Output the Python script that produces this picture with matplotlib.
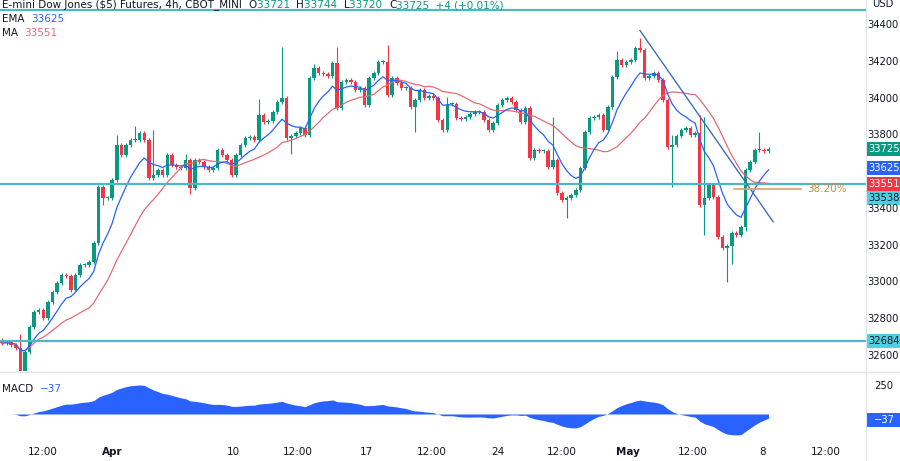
import numpy as np
import pandas as pd
import matplotlib
matplotlib.use("Agg")
import matplotlib.pyplot as plt

closes = [32671,32676,32660,32644,32497,32622,32758,32839,32850,32807,32894,32948,32997,33041,33035,32959,33041,33095,33095,33111,
33215,33519,33459,33459,33557,33747,33693,33747,33775,33775,33813,33775,33568,33584,33612,33584,33693,33639,33628,33622,
33666,33514,33666,33655,33628,33612,33622,33720,33693,33666,33584,33693,33747,33786,33791,33775,33911,33873,33878,33927,
33981,34003,33786,33796,33813,33840,33802,34112,34166,34139,34134,34123,34193,33949,34090,34101,34090,34047,34057,33965,
34112,34139,34199,34199,34019,34112,34085,34057,34057,33954,33992,34047,34003,34014,34003,33883,33829,33970,33970,33894,
33889,33900,33916,33927,33927,33883,33829,33867,33965,33992,34003,33981,33938,33873,33949,33677,33720,33715,33715,33628,
33666,33486,33448,33459,33476,33503,33622,33818,33894,33900,33911,33829,33954,34117,34210,34183,34199,34210,34275,34264,
34112,34123,34139,34101,33992,33737,33748,33796,33829,33840,33802,33813,33421,33459,33530,33465,33247,33187,33198,33269,
33258,33302,33612,33656,33720,33720,33715,33725]
first_open = 32680
# notable wick extremes {candle index: price}
high_over = {0: 32700, 4: 32720, 25: 33800, 29: 33850, 33: 33830, 40: 33700, 56: 34000, 61: 34280, 68: 34190,
             73: 34280, 84: 34290, 97: 34010, 120: 33900, 134: 34260, 139: 34330, 146: 33800, 152: 33911,
             153: 33900, 165: 33820}
low_over = {4: 32480, 5: 32480, 22: 33420, 41: 33480, 63: 33700, 90: 33820, 123: 33350, 146: 33519,
            153: 33260, 158: 33002, 159: 33100, 162: 33280}
hlines = [34482, 33538, 32684]
fib_level = 33508
trend_start = (139, 34370)
trend_end = (168, 33330)
tick_pos = [8.9, 24, 50.3, 64.5, 79.3, 93.7, 108, 122, 136.4, 150.5, 165.6, 179.5]
tick_lbl = ["12:00", "Apr", "10", "12:00", "17", "12:00", "24", "12:00", "May", "12:00", "8", "12:00"]
price_ticks = [34400, 34200, 34000, 33800, 33400, 33200, 33000, 32800, 32600]
box_vals = [33725, 33625, 33551, 33538, 32684]

GREEN = "#089981"; RED = "#f23645"; TEAL = "#4cb8c4"; BLUE = "#2962ff"; MARED = "#e06c75"; CYAN = "#4dd0e1"

c = np.array(closes, float)
o = np.concatenate([[first_open], c[:-1]])
n = len(c)
hi = np.maximum(o, c) + 12
lo = np.minimum(o, c) - 12
for k, v in high_over.items(): hi[k] = v
for k, v in low_over.items(): lo[k] = v
s = pd.Series(c)
ema = s.ewm(span=9, adjust=False).mean()
ma = s.rolling(20, min_periods=1).mean()
macd = s.ewm(span=12, adjust=False).mean() - s.ewm(span=26, adjust=False).mean()

W, H = 900, 461
fig = plt.figure(figsize=(9, 4.61), dpi=100)
def rect(x0, y0, x1, y1):
    return [x0 / W, 1 - y1 / H, (x1 - x0) / W, (y1 - y0) / H]
ax = fig.add_axes(rect(0, 0, 866, 371))
ax2 = fig.add_axes(rect(0, 372, 866, 441))
x = np.arange(n)
xl = (-0.44, -0.44 + 866 / 4.59)
for a in (ax, ax2):
    a.set_xlim(*xl)
    for sp in a.spines.values(): sp.set_visible(False)
    a.set_xticks([]); a.set_yticks([])
ax.set_ylim(34536 - 5.438 * 371, 34536)
for i in range(n):
    col = GREEN if c[i] >= o[i] else RED
    ax.vlines(x[i], lo[i], hi[i], color=col, lw=0.8)
    b0, b1 = min(o[i], c[i]), max(o[i], c[i])
    if b1 - b0 < 4: b1 = b0 + 4
    ax.add_patch(plt.Rectangle((x[i] - 0.38, b0), 0.76, b1 - b0, color=col, lw=0))
ax.plot(x, ma, color=MARED, lw=0.9)
ax.plot(x, ema, color=BLUE, lw=0.9)
for h in hlines:
    ax.axhline(h, color=TEAL, lw=1.6)
ax.plot([trend_start[0], trend_end[0]], [trend_start[1], trend_end[1]], color="#3f6fb5", lw=1)
ax.plot([159.5, 174], [fib_level, fib_level], color="#d9a066", lw=1.2)
ax.text(175.5, fib_level, "38.20%", color="#d4883a", fontsize=7.5, va="center")

ax2.set_ylim(-(441 - 414) * 8.93, (414 - 372) * 8.93)
ax2.fill_between(x, 0, macd, color=BLUE, lw=0)

fig.add_artist(plt.Line2D([0, 1], [1 - 371.5 / H] * 2, color="#e0e3eb", lw=1))
fig.add_artist(plt.Line2D([866 / W] * 2, [0, 1], color="#e0e3eb", lw=0.8))

for p, l in zip(tick_pos, tick_lbl):
    xp = (p - xl[0]) / (xl[1] - xl[0]) * 866 / W
    fig.text(xp, 1 - 452 / H, l, fontsize=7.5, ha="center", va="center", color="#131722",
             fontweight="bold" if l in ("Apr", "May") else "normal")

def py(p):
    return 1 - (34536 - p) / 5.438 / H
for p in price_ticks:
    fig.text(883 / W, py(p), str(p), fontsize=7.2, ha="center", va="center", color="#131722")
fig.text(883 / W, 1 - 4 / H, "USD", fontsize=7.2, ha="center", va="center", color="#131722")
box_cols = [GREEN, BLUE, RED, CYAN, CYAN]
box_ypx = [149, 168, 184, 198, 341]
for p, col, yp in zip(box_vals, box_cols, box_ypx):
    fig.add_artist(plt.Rectangle((867 / W, 1 - (yp + 7) / H), 33 / W, 14 / H, color=col, lw=0))
    fig.text(884 / W, 1 - yp / H, str(p), fontsize=7.2, ha="center", va="center",
             color="#131722" if col == CYAN else "white")
fig.text(884 / W, 1 - 386 / H, "250", fontsize=7.2, ha="center", va="center", color="#131722")
fig.add_artist(plt.Rectangle((867 / W, 1 - 427 / H), 33 / W, 14 / H, color=BLUE, lw=0))
fig.text(884 / W, 1 - 420 / H, "\u221237", fontsize=7.2, ha="center", va="center", color="white")

def pieces(xpx, ypx, parts, fs=7.5):
    fig.canvas.draw()
    r = fig.canvas.get_renderer()
    xx = xpx
    for t, col in parts:
        tt = fig.text(xx / W, 1 - ypx / H, t, fontsize=fs, color=col, va="center")
        bb = tt.get_window_extent(renderer=r)
        xx += bb.width
pieces(2, 5, [("E-mini Dow Jones ($5) Futures, 4h, CBOT_MINI  ", "#131722"), ("O", "#131722"), ("33721  ", GREEN),
              ("H", "#131722"), ("33744  ", GREEN), ("L", "#131722"), ("33720  ", GREEN), ("C", "#131722"),
              ("33725  +4 (+0.01%)", GREEN)])
pieces(2, 19, [("EMA  ", "#131722"), ("33625", BLUE)])
pieces(2, 33, [("MA  ", "#131722"), ("33551", MARED)])
pieces(2, 389, [("MACD  ", "#131722"), ("\u221237", BLUE)])
fig.savefig("out.png", dpi=100)
